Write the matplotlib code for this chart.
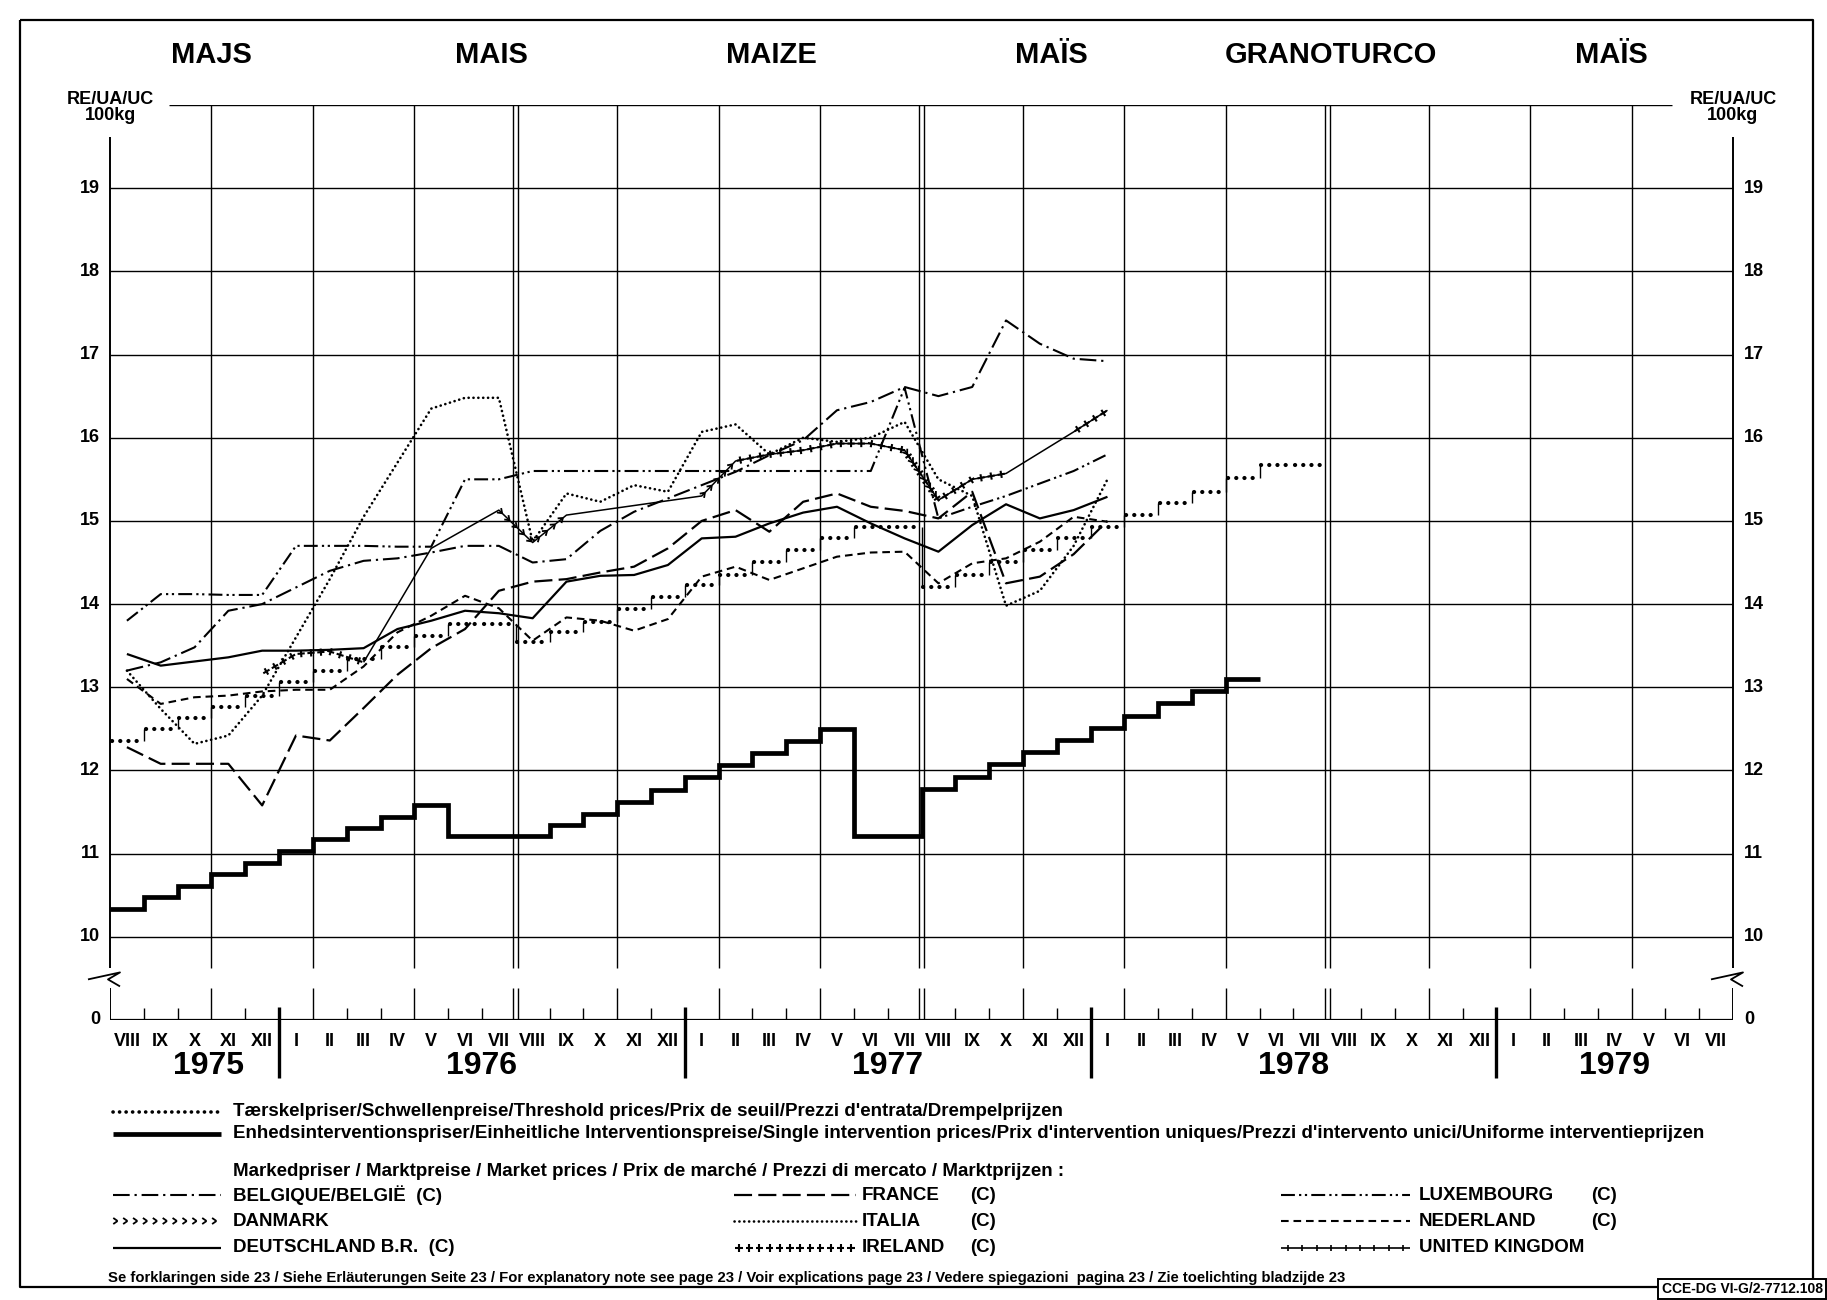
import matplotlib
matplotlib.use("Agg")
import matplotlib.pyplot as plt
import matplotlib.patheffects as pe
from matplotlib import font_manager
import numpy as np


# ----------------------------------------------------------------------
# data  (month 0 = August 1975, market prices read at mid-month)
# ----------------------------------------------------------------------

N = None

TITLES = ['MAJS', 'MAIS', 'MAIZE', 'MAÏS', 'GRANOTURCO', 'MAÏS']
ROMAN = ['I', 'II', 'III', 'IV', 'V', 'VI', 'VII', 'VIII', 'IX', 'X', 'XI', 'XII']
YEARS = ['1975', '1976', '1977', '1978', '1979']
Y_TICKS = [10, 11, 12, 13, 14, 15, 16, 17, 18, 19]

# monthly steps, Aug 75 .. Jul 78
THRESHOLD = [12.35, 12.50, 12.63, 12.76, 12.90, 13.06, 13.20, 13.34, 13.48, 13.62, 13.76, 13.76,
             13.54, 13.67, 13.79, 13.94, 14.09, 14.23, 14.35, 14.50, 14.65, 14.79, 14.93, 14.93,
             14.20, 14.35, 14.50, 14.65, 14.80, 14.93, 15.07, 15.21, 15.35, 15.52, 15.67, 15.67]
# monthly steps, Aug 75 .. May 78
INTERVENTION = [10.34, 10.48, 10.61, 10.76, 10.89, 11.03, 11.17, 11.31, 11.44, 11.58, 11.21, 11.21,
                11.21, 11.35, 11.48, 11.62, 11.76, 11.92, 12.07, 12.21, 12.35, 12.50, 11.21, 11.21,
                11.78, 11.92, 12.08, 12.22, 12.37, 12.51, 12.65, 12.81, 12.95, 13.10]

# market prices, Aug 75 .. Jan 78
BELGIQUE = [13.20, 13.30, 13.48, 13.92, 14.00, 14.20, 14.40, 14.52, 14.55, 14.62, 14.70, 14.70,
            14.50, 14.54, 14.88, 15.11, 15.27, 15.43, 15.59, 15.79, 15.97, 16.33, 16.43, 16.61,
            16.50, 16.61, 17.41, 17.13, 16.95, 16.92]
LUXEMBOURG = [13.80, 14.12, 14.12, 14.11, 14.11, 14.70, 14.70, 14.70, 14.69, 14.69, 15.50, 15.50,
              15.60, 15.60, 15.60, 15.60, 15.60, 15.60, 15.60, 15.60, 15.60, 15.60, 15.60, 16.60,
              15.03, 15.17, 15.30, 15.45, 15.60, 15.80]
DEUTSCHLAND = [13.40, 13.26, 13.31, 13.36, 13.44, 13.44, 13.45, 13.47, 13.70, 13.80, 13.92, 13.89,
               13.83, 14.27, 14.34, 14.35, 14.47, 14.79, 14.81, 14.97, 15.10, 15.17, 14.97, 14.79,
               14.63, 14.95, 15.20, 15.03, 15.13, 15.29]
FRANCE = [12.28, 12.08, 12.08, 12.08, 11.58, 12.42, 12.36, 12.75, 13.15, 13.47, 13.70, 14.16,
          14.27, 14.30, 14.38, 14.45, 14.67, 15.00, 15.13, 14.87, 15.23, 15.33, 15.17, 15.12,
          15.03, 15.35, 14.25, 14.33, 14.60, 15.00]
ITALIA = [13.20, 12.74, 12.32, 12.42, 12.90, 13.60, 14.30, 15.05, 15.70, 16.35, 16.48, 16.48,
          14.75, 15.33, 15.23, 15.43, 15.35, 16.07, 16.16, 15.80, 16.00, 15.95, 16.00, 16.19,
          15.50, 15.30, 13.98, 14.16, 14.70, 15.50]
NEDERLAND = [13.10, 12.80, 12.88, 12.90, 12.95, 12.97, 12.97, 13.25, 13.66, 13.86, 14.10, 13.95,
             13.56, 13.84, 13.80, 13.68, 13.82, 14.33, 14.45, 14.29, 14.43, 14.57, 14.62, 14.63,
             14.25, 14.49, 14.55, 14.75, 15.05, 14.99]
IRELAND = [N, N, N, N, 13.16, 13.40, 13.43, 13.30, N, N, N, N,
           N, N, N, N, N, N, 15.72, 15.80, 15.85, 15.93, 15.93, 15.85,
           15.25, 15.50, 15.57, N, 16.07, 16.33]
DANMARK = [N, N, N, N, N, N, N, N, N, N, N, 15.13,
           14.74, 15.07, N, N, N, 15.30, 15.72, N, N, N, N, 15.85,
           15.25, N, N, N, N, N]
UNITED_KINGDOM = [N, N, N, N, N, N, N, 13.30, N, 14.67, N, 15.13,
                  14.74, 15.07, N, N, N, 15.30, 15.72, 15.80, 15.85, 15.93, 15.93, 15.85,
                  15.25, 15.50, 15.57, N, 16.07, 16.33]

TXT_THRESHOLD = ("Tærskelpriser/Schwellenpreise/Threshold prices/Prix de seuil/"
                 "Prezzi d'entrata/Drempelprijzen")
TXT_INTERVENTION = ("Enhedsinterventionspriser/Einheitliche Interventionspreise/"
                    "Single intervention prices/Prix d'intervention uniques/"
                    "Prezzi d'intervento unici/Uniforme interventieprijzen")
TXT_MARKET = ("Markedpriser / Marktpreise / Market prices / Prix de marché / "
              "Prezzi di mercato / Marktprijzen :")
TXT_FOOT = ("Se forklaringen side 23 / Siehe Erläuterungen Seite 23 / For explanatory note see page 23"
            " / Voir explications page 23 / Vedere spiegazioni  pagina 23 / Zie toelichting bladzijde 23")
TXT_REF = "CCE-DG VI-G/2-7712.108"


# ----------------------------------------------------------------------
# styles
# ----------------------------------------------------------------------

avail = {f.name for f in font_manager.fontManager.ttflist}
NARROW = 'Liberation Sans Narrow' if 'Liberation Sans Narrow' in avail else 'Liberation Sans'
plt.rcParams['font.family'] = ['Liberation Sans', 'DejaVu Sans']
plt.rcParams['lines.scale_dashes'] = False
plt.rcParams['lines.solid_capstyle'] = 'butt'


def ticks(spacing, arm, angles, lw):
    return [pe.TickedStroke(spacing=spacing, angle=a, length=arm / spacing,
                            linewidth=lw, foreground='k') for a in angles]


STYLE = {
    'belgique': dict(lw=1.5, ls=(0, (12, 3.5, 1.6, 3.5))),
    'luxembourg': dict(lw=1.5, ls=(0, (10, 3, 1.6, 2.6, 1.6, 3))),
    'france': dict(lw=1.6, ls=(0, (13, 4.5))),
    'nederland': dict(lw=1.5, ls=(0, (5.5, 3.5))),
    'italia': dict(lw=1.9, ls=(0, (0.1, 3.4)), dash_capstyle='round'),
    'deutschland': dict(lw=1.6, ls='-'),
    'threshold': dict(lw=3.0, ls=(0, (0.1, 5.8)), dash_capstyle='round'),
    'intervention': dict(lw=3.4, ls='-'),
    'ireland': dict(lw=1.0, path_effects=ticks(7.1, 2.6, (0, 180, 90, -90), 1.5)),
    'danmark': dict(lw=1.0, path_effects=ticks(6.6, 3.8, (145, -145), 1.3)),
    'uk': dict(lw=1.2, path_effects=[pe.Normal()] + ticks(10, 2.4, (90, -90), 1.2)),
}


def draw(axis, xs, ys, key, **kw):
    axis.plot(xs, ys, color='k', **STYLE[key], **kw)


def runs(vals):
    seg = []
    for k, v in enumerate(vals + [None]):
        if v is None:
            if len(seg) > 1:
                yield seg
            seg = []
        else:
            seg.append((k + 0.5, v))


# ----------------------------------------------------------------------
# figure: pixel overlay + chart axes
# ----------------------------------------------------------------------

W, H = 1827, 1300
X0, X1 = 110, 1733      # months 0 .. 48
Y0, Y1 = 1020, 105      # values 9 ("0") .. 20

fig = plt.figure(figsize=(W / 100, H / 100), dpi=100)
pg = fig.add_axes([0, 0, 1, 1])
pg.set_xlim(0, W)
pg.set_ylim(H, 0)
pg.axis('off')

ax = fig.add_axes([X0 / W, 1 - Y0 / H, (X1 - X0) / W, (Y0 - Y1) / H])
ax.set_xlim(0, 48)
ax.set_ylim(9, 20)
ax.axis('off')

# frame
pg.plot([20, 1813, 1813, 20, 20], [20, 20, 1287, 1287, 20], color='k', lw=1.6)

# grid
grid = dict(color='k', lw=1.0, zorder=1)
GAP = (9.38, 9.62)
for v in Y_TICKS:
    ax.plot([0, 48], [v, v], **grid)
ax.plot([1.75, 46.2], [20, 20], **grid)
ax.plot([0, 48], [9, 9], color='k', lw=1.6, zorder=1)
for m in range(3, 48, 3):
    for x in ([m - 0.07, m + 0.07] if m % 12 == 0 else [m]):
        ax.plot([x, x], [9, GAP[0]], **grid)
        ax.plot([x, x], [GAP[1], 20], **grid)
for x in (0, 48):
    ax.plot([x, x], [9, GAP[0]], color='k', lw=1.4, zorder=1)
    ax.plot([x, x], [GAP[1], 19.62], color='k', lw=1.4, zorder=1, clip_on=False)
for m in range(1, 48):
    if m % 3:
        ax.plot([m, m], [9, 9.15], color='k', lw=1.0, zorder=1)

# axis break
yb = Y0 - 0.5 * (Y0 - Y1) / 11
for xb in (X0, X1):
    pg.plot([xb - 22, xb + 10, xb - 2, xb + 10], [yb + 1, yb - 6, yb + 1, yb + 8],
            color='k', lw=1.3)

# year separators and labels
for i, year in enumerate(YEARS):
    a = max(0, 5 + 12 * (i - 1))
    b = min(48, 5 + 12 * i)
    ax.annotate(year, ((a + b) / 2 + (0.4 if i == 0 else 0), 9), xytext=(0, -33),
                textcoords='offset points', ha='center', va='center',
                fontsize=23, fontweight='bold', annotation_clip=False)
    if b < 48:
        ax.plot([b, b], [9.16, 8.3], color='k', lw=2.4, clip_on=False)

for i in range(48):
    ax.annotate(ROMAN[(i + 7) % 12], (i + 0.5, 9), xytext=(0, -9),
                textcoords='offset points', ha='center', va='top',
                fontsize=13, fontweight='bold', family=NARROW, annotation_clip=False)

# y labels
for v in Y_TICKS + [9]:
    s = '0' if v == 9 else str(v)
    ax.annotate(s, (0, v), xytext=(-7, 0), textcoords='offset points', ha='right',
                va='center', fontsize=13, fontweight='bold', annotation_clip=False)
    ax.annotate(s, (48, v), xytext=(8, 0), textcoords='offset points', ha='left',
                va='center', fontsize=13, fontweight='bold', annotation_clip=False)
for xl in (X0, X1):
    pg.text(xl, 100, 'RE/UA/UC', ha='center', va='center', fontsize=13, fontweight='bold')
    pg.text(xl, 116, '100kg', ha='center', va='center', fontsize=13, fontweight='bold')

# titles
for i, t in enumerate(TITLES):
    pg.text(211 + 280 * i, 55, t, ha='center', va='center', fontsize=21,
            family=NARROW, fontweight='bold')

# ----------------------------------------------------------------------
# series
# ----------------------------------------------------------------------

ax.stairs(INTERVENTION, np.arange(len(INTERVENTION) + 1), baseline=None,
          color='k', lw=3.4, zorder=4)

edges = np.arange(len(THRESHOLD) + 1)
ax.hlines(THRESHOLD, edges[:-1] + 0.05, edges[1:] - 0.05, color='k',
          linestyles=[STYLE['threshold']['ls']], lw=3.0, capstyle='round', zorder=4)
ax.vlines(edges[1:-1], THRESHOLD[:-1], THRESHOLD[1:], color='k', lw=1.0, zorder=4)

for vals, key in [(BELGIQUE, 'belgique'), (LUXEMBOURG, 'luxembourg'),
                  (DEUTSCHLAND, 'deutschland'), (FRANCE, 'france'),
                  (ITALIA, 'italia'), (NEDERLAND, 'nederland')]:
    draw(ax, np.arange(len(vals)) + 0.5, vals, key, zorder=3)

uk = [(k + 0.5, v) for k, v in enumerate(UNITED_KINGDOM) if v is not None]
ax.plot([p[0] for p in uk], [p[1] for p in uk], color='k', lw=1.1, zorder=3)
for vals, key in [(IRELAND, 'ireland'), (DANMARK, 'danmark')]:
    for seg in runs(vals):
        draw(ax, [p[0] for p in seg], [p[1] for p in seg], key, zorder=3)

# ----------------------------------------------------------------------
# legend
# ----------------------------------------------------------------------

def sample(x0, x1, y, key):
    if key == 'threshold':
        pg.plot([x0, x1], [y, y], color='k', lw=2.6, ls=(0, (0.1, 4.6)),
                dash_capstyle='round')
    else:
        draw(pg, [x0, x1], [y, y], key)


txt = dict(fontsize=13.5, va='center', ha='left', fontweight='bold')
cap = dict(fontsize=13.5, va='center', ha='left', fontweight='bold')

sample(113, 221, 1112, 'threshold')
pg.text(233, 1112, TXT_THRESHOLD, **txt)
sample(113, 221, 1134, 'intervention')
pg.text(233, 1134, TXT_INTERVENTION, **txt)
pg.text(233, 1171, TXT_MARKET, **txt)

rows = [1195, 1221, 1248]
cols = [(113, 221, 233), (734, 856, 862), (1281, 1410, 1419)]
entries = [
    [('belgique', 'BELGIQUE/BELGIË  (C)', None), ('danmark', 'DANMARK', None),
     ('deutschland', 'DEUTSCHLAND B.R.  (C)', None)],
    [('france', 'FRANCE', 970), ('italia', 'ITALIA', 970), ('ireland', 'IRELAND', 970)],
    [('luxembourg', 'LUXEMBOURG', 1591), ('nederland', 'NEDERLAND', 1591),
     ('uk', 'UNITED KINGDOM', None)],
]
for (x0, x1, xt), col in zip(cols, entries):
    for y, (key, label, xc) in zip(rows, col):
        sample(x0, x1, y, key)
        pg.text(xt, y, label, **cap)
        if xc:
            pg.text(xc, y, '(C)', **cap)

pg.text(108, 1278, TXT_FOOT, fontsize=10.7, fontweight='bold', va='center', ha='left')
pg.text(1742, 1289, TXT_REF, fontsize=10, fontweight='bold', va='center', ha='center',
        bbox=dict(boxstyle='square,pad=0.25', fc='white', ec='k', lw=1.4))

fig.savefig('out.png', dpi=100)
